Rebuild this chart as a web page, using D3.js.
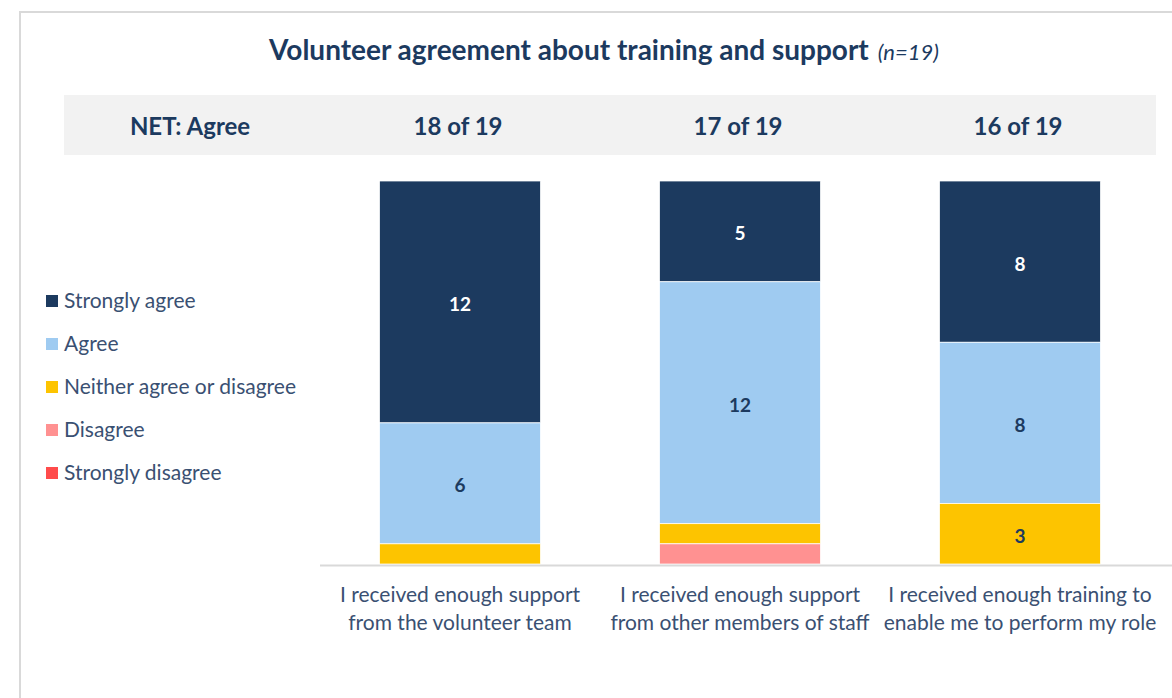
<!DOCTYPE html>
<html>
<head>
<meta charset="utf-8">
<script src="https://cdn.jsdelivr.net/npm/d3@7"></script>
<style>
  body { margin: 0; background: #fff; }
  svg { display: block; font-family: Lato, "Open Sans", sans-serif; }
</style>
</head>
<body>
<div id="chart"></div>
<script>
// chart data
const categories = [
  ["I received enough support", "from the volunteer team"],
  ["I received enough support", "from other members of staff"],
  ["I received enough training to", "enable me to perform my role"]
];
const seriesNames = ["Strongly agree", "Agree", "Neither agree or disagree", "Disagree", "Strongly disagree"];
const stronglyAgree = [12, 5, 8];
const agree = [6, 12, 8];
const neither = [1, 1, 3];
const disagree = [0, 1, 0];
const stronglyDisagree = [0, 0, 0];
const netLabels = ["18 of 19", "17 of 19", "16 of 19"];
const total = 19;

const colors = ["#1c3a5f", "#9fcbf1", "#fdc400", "#ff9191", "#ff4b4b"];
const textCol = "#1c3a5f";

const width = 1172, height = 698;
const svg = d3.select("#chart").append("svg")
  .attr("width", width).attr("height", height);

// frame
svg.append("path")
  .attr("d", "M20,698 V12 H1172")
  .attr("fill", "none").attr("stroke", "#d9d9d9").attr("stroke-width", 2);

// title
const title = svg.append("text")
  .attr("x", 604).attr("y", 60)
  .attr("text-anchor", "middle")
  .attr("fill", textCol);
title.append("tspan").attr("font-size", 28).attr("font-weight", "bold")
  .text("Volunteer agreement about training and support");
title.append("tspan").attr("font-size", 22).attr("font-style", "italic")
  .attr("dx", 9).text("(n=19)");

// rows of data
const rows = categories.map((c, i) => ({
  key: i,
  "Strongly agree": stronglyAgree[i],
  "Agree": agree[i],
  "Neither agree or disagree": neither[i],
  "Disagree": disagree[i],
  "Strongly disagree": stronglyDisagree[i]
}));

const x = d3.scaleBand()
  .domain(rows.map(d => d.key))
  .range([320, 1160])
  .paddingInner(0.425).paddingOuter(0.2125);

const y = d3.scaleLinear()
  .domain([0, total])
  .range([564, 181]);

// header band
svg.append("rect")
  .attr("x", 64).attr("y", 95).attr("width", 1092).attr("height", 60)
  .attr("fill", "#f2f2f2");
svg.append("text")
  .attr("x", 190).attr("y", 135)
  .attr("text-anchor", "middle").attr("font-size", 24).attr("font-weight", "bold")
  .attr("fill", textCol).text("NET: Agree");
svg.selectAll(".net").data(netLabels).join("text")
  .attr("class", "net")
  .attr("x", (d, i) => x(i) + x.bandwidth() / 2 - 2)
  .attr("y", 135)
  .attr("text-anchor", "middle").attr("font-size", 24).attr("font-weight", "bold")
  .attr("fill", textCol).text(d => d);

// stacked bars
const stacked = d3.stack().keys(seriesNames)
  .order(d3.stackOrderReverse)(rows);

const layers = svg.selectAll(".layer").data(stacked).join("g")
  .attr("class", "layer")
  .attr("fill", d => colors[seriesNames.indexOf(d.key)]);

layers.selectAll("rect").data(d => d).join("rect")
  .attr("x", d => x(d.data.key))
  .attr("width", x.bandwidth())
  .attr("y", d => y(d[1]))
  .attr("height", d => y(d[0]) - y(d[1]))
  .attr("stroke", "#fff").attr("stroke-width", 0.75);

// value labels (hide small segments)
layers.each(function(layer) {
  const idx = seriesNames.indexOf(layer.key);
  d3.select(this).selectAll("text").data(layer.filter(d => d[1] - d[0] >= 2)).join("text")
    .attr("x", d => x(d.data.key) + x.bandwidth() / 2)
    .attr("y", d => y((d[0] + d[1]) / 2) + 9)
    .attr("text-anchor", "middle")
    .attr("font-size", 19).attr("font-weight", "bold")
    .attr("fill", idx === 0 ? "#fff" : textCol)
    .text(d => d[1] - d[0]);
});

// baseline
svg.append("line")
  .attr("x1", 320).attr("x2", 1172)
  .attr("y1", y(0) + 1.5).attr("y2", y(0) + 1.5)
  .attr("stroke", "#d9d9d9").attr("stroke-width", 2);

// category labels
const catText = svg.selectAll(".cat").data(categories).join("text")
  .attr("class", "cat")
  .attr("text-anchor", "middle")
  .attr("font-size", 21)
  .attr("fill", "#3a5072");
catText.selectAll("tspan").data((d, i) => d.map(s => ({ s, i }))).join("tspan")
  .attr("x", d => x(d.i) + x.bandwidth() / 2)
  .attr("y", (d, j) => 602 + j * 28)
  .text(d => d.s);

// legend
const legend = svg.selectAll(".leg").data(seriesNames).join("g")
  .attr("class", "leg")
  .attr("transform", (d, i) => `translate(46,${301 + i * 43})`);
legend.append("rect")
  .attr("x", 0).attr("y", -6).attr("width", 12).attr("height", 12)
  .attr("fill", (d, i) => colors[i]);
legend.append("text")
  .attr("x", 18).attr("y", 7)
  .attr("font-size", 21).attr("fill", "#3a5072")
  .text(d => d);
</script>
</body>
</html>
